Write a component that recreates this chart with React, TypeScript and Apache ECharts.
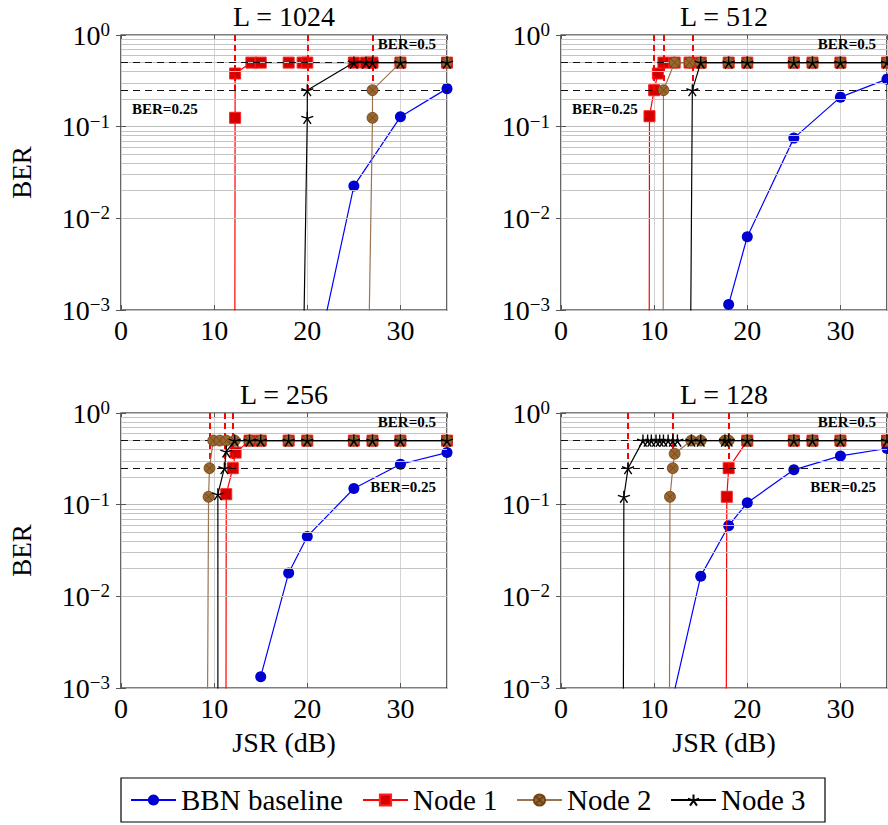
import React, { useEffect, useRef } from 'react';
import * as echarts from 'echarts';

const FONT = 'Liberation Serif';

const panelTitles = ['L = 1024', 'L = 512', 'L = 256', 'L = 128'];
const seriesNames = ['BBN baseline', 'Node 1', 'Node 2', 'Node 3'];
const berLevels = [0.5, 0.25];
const berLabels = ['BER=0.5', 'BER=0.25'];
const minorMultipliers = [2, 3, 4, 5, 6, 7, 8, 9];
const decades = [0.001, 0.01, 0.1];

// L = 1024
const bbn1024 = [[20, 0.0001], [25, 0.0225], [30, 0.128], [35, 0.26]];
const node1_1024 = [[12.2, 0.00001], [12.25, 0.125], [12.25, 0.38], [14, 0.5], [15, 0.5], [18, 0.5], [19.5, 0.5], [20, 0.5], [25, 0.5], [26.3, 0.5], [27, 0.5], [30, 0.5], [35, 0.5]];
const node2_1024 = [[26.5, 0.0001], [27, 0.125], [27, 0.25], [30, 0.5], [35, 0.5]];
const node3_1024 = [[19.5, 0.0001], [20, 0.125], [20, 0.25], [25, 0.5], [26.3, 0.5], [27, 0.5], [30, 0.5], [35, 0.5]];
const thr1024 = [12.25, 20, 27];

// L = 512
const bbn512 = [[18, 0.00115], [20, 0.0063], [25, 0.075], [30, 0.21], [35, 0.33]];
const node1_512 = [[9.45, 0.00001], [9.5, 0.13], [10, 0.25], [10.4, 0.38], [11, 0.5], [12.2, 0.5], [13.8, 0.5], [15, 0.5], [18, 0.5], [20, 0.5], [25, 0.5], [27, 0.5], [30, 0.5], [35, 0.5]];
const node2_512 = [[10.95, 0.00001], [11, 0.25], [12.2, 0.5], [13.8, 0.5], [15, 0.5], [18, 0.5], [20, 0.5], [25, 0.5], [27, 0.5], [30, 0.5], [35, 0.5]];
const node3_512 = [[13.8, 0.00001], [14.1, 0.25], [15, 0.5], [18, 0.5], [20, 0.5], [25, 0.5], [27, 0.5], [30, 0.5], [35, 0.5]];
const thr512 = [10, 11, 14.1];

// L = 256
const bbn256 = [[15, 0.00133], [18, 0.018], [20, 0.045], [25, 0.15], [30, 0.276], [35, 0.37]];
const node1_256 = [[11.25, 0.00001], [11.3, 0.13], [12, 0.25], [12.3, 0.37], [13.8, 0.5], [15, 0.5], [18, 0.5], [20, 0.5], [25, 0.5], [27, 0.5], [30, 0.5], [35, 0.5]];
const node2_256 = [[9.2, 0.00001], [9.4, 0.122], [9.5, 0.25], [9.9, 0.5], [10.6, 0.5], [11.3, 0.5], [12.2, 0.5], [13.8, 0.5], [15, 0.5], [18, 0.5], [20, 0.5], [25, 0.5], [27, 0.5], [30, 0.5], [35, 0.5]];
const node3_256 = [[10.4, 0.00001], [10.4, 0.13], [11.1, 0.25], [11.3, 0.38], [12.2, 0.5], [13.8, 0.5], [15, 0.5], [18, 0.5], [20, 0.5], [25, 0.5], [27, 0.5], [30, 0.5], [35, 0.5]];
const thr256 = [9.5, 11.1, 12];

// L = 128
const bbn128 = [[10, 0.0001], [15, 0.0166], [18, 0.059], [20, 0.105], [25, 0.24], [30, 0.34], [35, 0.41]];
const node1_128 = [[17.7, 0.00001], [17.8, 0.122], [18, 0.25], [20, 0.5], [25, 0.5], [27, 0.5], [30, 0.5], [35, 0.5]];
const node2_128 = [[11.6, 0.00001], [11.7, 0.122], [12, 0.25], [12.2, 0.36], [14, 0.5], [15, 0.5], [17.6, 0.5], [18, 0.5], [20, 0.5], [25, 0.5], [27, 0.5], [30, 0.5], [35, 0.5]];
const node3_128 = [[6.65, 0.00001], [6.75, 0.122], [7.2, 0.25], [8.8, 0.5], [9.3, 0.5], [9.7, 0.5], [10.2, 0.5], [10.6, 0.5], [11.0, 0.5], [11.5, 0.5], [12.0, 0.5], [12.5, 0.5], [14, 0.5], [15, 0.5], [17.6, 0.5], [18, 0.5], [20, 0.5], [25, 0.5], [27, 0.5], [30, 0.5], [35, 0.5]];
const thr128 = [7.2, 12, 18];

const panelData = [
  [bbn1024, node1_1024, node2_1024, node3_1024],
  [bbn512, node1_512, node2_512, node3_512],
  [bbn256, node1_256, node2_256, node3_256],
  [bbn128, node1_128, node2_128, node3_128],
];
const panelThresholds = [thr1024, thr512, thr256, thr128];
const lowLabelPos = ['insideStartBottom', 'insideStartBottom', 'insideEndBottom', 'insideEndBottom'];

const GRID_W = 326;
const GRID_H = 275;
const gridPos = [
  { left: 121, top: 35 },
  { left: 561, top: 35 },
  { left: 121, top: 413 },
  { left: 561, top: 413 },
];

const STAR = 'path://M0 -10 L0 0 M9.51 -3.09 L0 0 M5.88 8.09 L0 0 M-5.88 8.09 L0 0 M-9.51 -3.09 L0 0';
const OTIMES = 'path://M10 0 A10 10 0 1 1 -10 0 A10 10 0 1 1 10 0 Z M-7.07 -7.07 L7.07 7.07 M7.07 -7.07 L-7.07 7.07';

const styles = [
  { symbol: 'circle', symbolSize: 11, line: '#0000ff', item: { color: '#0000d0', borderColor: '#0000d0', borderWidth: 0 } },
  { symbol: 'rect', symbolSize: 11, line: '#ff0000', item: { color: '#d40000', borderColor: '#ff2020', borderWidth: 1 } },
  { symbol: OTIMES, symbolSize: 11, line: '#9c7450', item: { color: '#9a6630', borderColor: '#6e4418', borderWidth: 0.8 } },
  { symbol: STAR, symbolSize: 12, line: '#000000', item: { color: '#000000', borderColor: '#000000', borderWidth: 1.4 } },
];

function yLabel(v: number) {
  const e = Math.round(Math.log10(v));
  const s = e < 0 ? '\u2212' + String(-e) : String(e);
  return '{b|10}{s|' + s + '}';
}

const tickStyle = { show: true, inside: true, length: 5, lineStyle: { color: '#555' } };

export default function App() {
  const ref = useRef<HTMLDivElement>(null);
  useEffect(() => {
    if (!ref.current) return;
    const chart = echarts.init(ref.current, null, { renderer: 'svg' });
    const minorVals: number[] = [];
    decades.forEach((d) => minorMultipliers.forEach((m) => minorVals.push(+(d * m).toPrecision(6))));

    const grids = gridPos.map((g) => ({
      left: g.left,
      top: g.top,
      width: GRID_W,
      height: GRID_H,
      show: true,
      borderColor: '#000',
      borderWidth: 1.2,
      backgroundColor: 'transparent',
      containLabel: false,
    }));
    const xAxes: any[] = gridPos.map((_, i) => ({
      type: 'value',
      gridIndex: i,
      min: 0,
      max: 35,
      interval: 10,
      axisLine: { show: false },
      axisTick: tickStyle,
      splitLine: { show: true, lineStyle: { color: '#d4d4d4', width: 1 } },
      axisLabel: { showMaxLabel: false, fontFamily: FONT, fontSize: 28, color: '#000', margin: 6 },
    }));
    gridPos.forEach((_, i) => {
      xAxes.push({
        type: 'value',
        gridIndex: i,
        position: 'top',
        min: 0,
        max: 35,
        interval: 10,
        axisLine: { show: false },
        axisTick: tickStyle,
        splitLine: { show: false },
        axisLabel: { show: false },
      });
    });
    const yAxes: any[] = gridPos.map((_, i) => ({
      type: 'log',
      logBase: 10,
      gridIndex: i,
      min: 0.001,
      max: 1,
      axisLine: { show: false },
      axisTick: tickStyle,
      splitLine: { show: true, lineStyle: { color: '#bdbdbd', width: 1 } },
      minorTick: { show: false },
      axisLabel: {
        margin: 11,
        formatter: yLabel,
        fontFamily: FONT,
        rich: {
          b: { fontFamily: FONT, fontSize: 28, color: '#000', lineHeight: 30 },
          s: { fontFamily: FONT, fontSize: 19, color: '#000', lineHeight: 16, verticalAlign: 'top' },
        },
      },
    }));
    gridPos.forEach((_, i) => {
      yAxes.push({
        type: 'log',
        logBase: 10,
        gridIndex: i,
        position: 'right',
        min: 0.001,
        max: 1,
        axisLine: { show: false },
        axisTick: tickStyle,
        splitLine: { show: false },
        axisLabel: { show: false },
      });
    });

    const series: any[] = [];
    panelData.forEach((group, i) => {
      series.push({
        type: 'line',
        xAxisIndex: i,
        yAxisIndex: i,
        data: [],
        silent: true,
        z: 1,
        markLine: {
          silent: true,
          animation: false,
          symbol: ['none', 'none'],
          label: { show: false },
          lineStyle: { color: '#c4c4c4', width: 1, type: 'solid' },
          data: minorVals.map((v) => ({ yAxis: v })),
        },
      });
      const ml: any[] = [];
      panelThresholds[i].forEach((x) => {
        ml.push([
          { coord: [x, 1], lineStyle: { color: '#ff0000', width: 2, type: [6, 4] } },
          { coord: [x, 0.25] },
        ]);
      });
      berLevels.forEach((b, k) => {
        ml.push({
          yAxis: b,
          lineStyle: { color: '#111', width: 1.1, type: [7, 5] },
          label: {
            show: true,
            formatter: berLabels[k],
            position: k === 0 ? 'insideEndTop' : lowLabelPos[i],
            distance: [11, 11],
            fontFamily: FONT,
            fontSize: 15,
            fontWeight: 'bold',
            color: '#000',
          },
        });
      });
      series.push({
        type: 'line',
        xAxisIndex: i,
        yAxisIndex: i,
        data: [],
        silent: true,
        z: 2,
        markLine: {
          silent: true,
          animation: false,
          symbol: ['none', 'none'],
          data: ml,
        },
      });
      group.forEach((d, k) => {
        const st = styles[k];
        series.push({
          type: 'line',
          name: seriesNames[k],
          xAxisIndex: i,
          yAxisIndex: i,
          data: d,
          z: 3 + k,
          symbol: st.symbol,
          symbolSize: st.symbolSize,
          showAllSymbol: true,
          clip: true,
          lineStyle: { color: st.line, width: 1.2 },
          itemStyle: st.item,
          emphasis: { disabled: true },
        });
      });
    });

    const graphic: any[] = [];
    panelTitles.forEach((t, i) => {
      graphic.push({
        type: 'text',
        x: gridPos[i].left + GRID_W / 2,
        y: gridPos[i].top - 19,
        style: { text: t, fontFamily: FONT, fontSize: 28, fill: '#000', align: 'center', verticalAlign: 'middle' },
      });
    });
    [0, 2].forEach((i) => {
      graphic.push({
        type: 'text',
        x: 22,
        y: gridPos[i].top + GRID_H / 2,
        rotation: Math.PI / 2,
        style: { text: 'BER', fontFamily: FONT, fontSize: 27, fill: '#000', align: 'center', verticalAlign: 'middle' },
      });
    });
    [2, 3].forEach((i) => {
      graphic.push({
        type: 'text',
        x: gridPos[i].left + GRID_W / 2,
        y: 742,
        style: { text: 'JSR (dB)', fontFamily: FONT, fontSize: 28, fill: '#000', align: 'center', verticalAlign: 'middle' },
      });
    });

    const legendWidths = [172, 94, 94, 94];
    chart.setOption({
      animation: false,
      textStyle: { fontFamily: FONT },
      grid: grids,
      xAxis: xAxes,
      yAxis: yAxes,
      series,
      graphic,
      legend: {
        left: 121,
        top: 778,
        padding: [7, 10, 7, 9],
        itemGap: 9,
        itemWidth: 45,
        itemHeight: 14,
        borderColor: '#000',
        borderWidth: 1.2,
        selectedMode: false,
        textStyle: { fontFamily: FONT, fontSize: 29, color: '#000', lineHeight: 30 },
        data: seriesNames.map((n, k) => ({ name: n, textStyle: { width: legendWidths[k], fontFamily: FONT, fontSize: 29 } })),
      },
    });
    return () => chart.dispose();
  }, []);
  return <div ref={ref} style={{ position: 'absolute', left: 0, top: 0, width: 888, height: 825 }} />;
}
